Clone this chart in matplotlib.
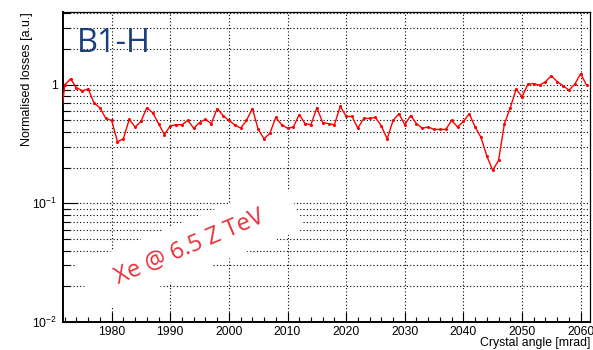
import math
import matplotlib
matplotlib.use('Agg')
import matplotlib.pyplot as plt
import matplotlib.patches as mpatches
from matplotlib.transforms import Affine2D
from matplotlib.ticker import MultipleLocator, LogLocator, NullFormatter, FuncFormatter

# crystal angle scan [mrad] and normalised losses [a.u.]
angles = list(range(1971, 2062))
losses = [
    0.35, 1.00, 1.12, 0.94, 0.89, 0.92, 0.70, 0.64, 0.52, 0.50,   # 1971-1980
    0.33, 0.35, 0.51, 0.44, 0.49, 0.64, 0.58, 0.47, 0.38, 0.45,   # 1981-1990
    0.46, 0.46, 0.50, 0.43, 0.48, 0.51, 0.47, 0.63, 0.55, 0.50,   # 1991-2000
    0.46, 0.43, 0.50, 0.63, 0.42, 0.35, 0.39, 0.53, 0.46, 0.43,   # 2001-2010
    0.44, 0.56, 0.47, 0.46, 0.64, 0.48, 0.47, 0.46, 0.66, 0.54,   # 2011-2020
    0.54, 0.43, 0.52, 0.52, 0.53, 0.45, 0.35, 0.50, 0.57, 0.46,   # 2021-2030
    0.55, 0.47, 0.43, 0.44, 0.42, 0.42, 0.42, 0.50, 0.44, 0.49,   # 2031-2040
    0.57, 0.44, 0.36, 0.25, 0.19, 0.23, 0.47, 0.64, 0.92, 0.79,   # 2041-2050
    1.01, 1.02, 0.99, 1.06, 1.19, 1.06, 0.98, 0.90, 1.01, 1.24,   # 2051-2060
    0.99,                                                         # 2061
]
plane_label = 'B1-H'
beam_label = 'Xe @ 6.5 Z TeV'
xlabel = 'Crystal angle [mrad]'
ylabel = 'Normalised losses [a.u.]'

plt.rcParams['font.family'] = ['Liberation Sans', 'DejaVu Sans']
plt.rcParams['mathtext.fontset'] = 'custom'
plt.rcParams['mathtext.rm'] = 'Liberation Sans'

fig = plt.figure(figsize=(5.93, 3.5), dpi=100)
ax = fig.add_axes([0.1062, 0.08, 0.8888, 0.8857])

ax.plot(angles, losses, color='#ff0000', lw=1.0, marker='o', ms=1.2, zorder=3)

ax.set_yscale('log')
ax.set_xlim(1971.7, 2061.6)
ax.set_ylim(0.01, 4.1)

ax.xaxis.set_major_locator(MultipleLocator(10))
ax.xaxis.set_minor_locator(MultipleLocator(2))
ax.yaxis.set_major_locator(LogLocator(base=10))
ax.yaxis.set_minor_locator(LogLocator(base=10, subs=range(2, 10)))
ax.yaxis.set_minor_formatter(NullFormatter())

def ylab(v, pos):
    if abs(v - 1) < 1e-9:
        return '1'
    return r'$10^{%d}$' % round(math.log10(v))
ax.yaxis.set_major_formatter(FuncFormatter(ylab))

ax.tick_params(axis='both', which='both', direction='in', top=False, right=False,
               labelsize=8.8, colors='black', width=0.8)
ax.tick_params(axis='y', which='major', length=10.8, pad=4)
ax.tick_params(axis='y', which='minor', length=5)
ax.tick_params(axis='x', which='major', length=7.2, pad=3)
ax.tick_params(axis='x', which='minor', length=3.6)

ax.grid(True, axis='x', which='major', color='black', ls=(0, (1, 2)), lw=0.8)
ax.grid(True, axis='y', which='both', color='black', ls=(0, (1, 2)), lw=0.8)

for side in ['left', 'bottom']:
    ax.spines[side].set_linewidth(1.4)
for side in ['top', 'right']:
    ax.spines[side].set_linewidth(0.9)

ax.set_xlabel(xlabel, fontsize=8.8, loc='right')
ax.xaxis.set_label_coords(1.0, -0.048)
ax.xaxis.label.set_va('top')
ax.set_ylabel(ylabel, fontsize=9.0, loc='top')
ax.yaxis.set_label_coords(-0.057, 1.0)

ax.text(0.0266, 0.871, plane_label, transform=ax.transAxes, fontsize=23.5,
        family=['Open Sans', 'DejaVu Sans'], color='#1b3f7c', va='baseline', ha='left')

# white box behind the beam label hides the grid
cx, cy = 0.241, 0.242
px, py = ax.transAxes.transform((cx, cy))
L, H = 225, 51
mask = mpatches.Rectangle((px - L / 2, py - H / 2), L, H, facecolor='white', edgecolor='none',
                          transform=Affine2D().rotate_deg_around(px, py, 22), zorder=1.8)
ax.add_artist(mask)
ax.text(cx, cy, beam_label, transform=ax.transAxes, fontsize=17,
        family=['Open Sans', 'DejaVu Sans'], color='#e8303a', rotation=23,
        rotation_mode='anchor', ha='center', va='center', zorder=4)

fig.savefig('out.png', dpi=100)
